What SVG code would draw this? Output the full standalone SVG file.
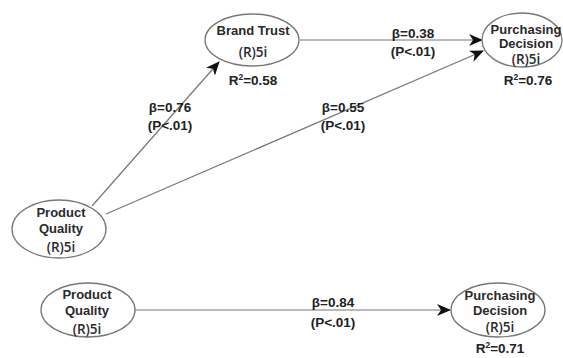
<svg xmlns="http://www.w3.org/2000/svg" width="563" height="358" viewBox="0 0 563 358">
<style>
.node ellipse{fill:#fff;stroke:#777;stroke-width:1.3}
.nt{font-family:"Liberation Sans",Arial,sans-serif;font-weight:bold;font-size:13px;fill:#2a2a2a;text-anchor:middle}
.ri{font-family:"Open Sans","Liberation Sans",sans-serif;font-weight:600;font-size:13.5px;fill:#2a2a2a;text-anchor:middle}
.lb{font-family:"Liberation Sans",Arial,sans-serif;font-weight:bold;font-size:13.5px;fill:#222;text-anchor:middle}
.edge{stroke:#777;stroke-width:1.2;fill:none;marker-end:url(#ah)}
</style>
<defs>
<marker id="ah" markerUnits="userSpaceOnUse" markerWidth="16" markerHeight="12" refX="13" refY="6" orient="auto" viewBox="0 0 16 12">
<path d="M0,0 L14,6 L0,12 L4,6 Z" fill="#111"/>
</marker>
</defs>
<rect width="563" height="358" fill="#fff"/>
<g id="connectors">
<line class="edge" x1="92" y1="206" x2="219" y2="62"/>
<line class="edge" x1="300" y1="40" x2="482" y2="40"/>
<line class="edge" x1="106" y1="214" x2="483" y2="51"/>
<line class="edge" x1="135" y1="310" x2="450" y2="310"/>
<text class="lb" x="170" y="112">β=0.76</text>
<text class="lb" x="170" y="130">(P&lt;.01)</text>
<text class="lb" x="413" y="38">β=0.38</text>
<text class="lb" x="413" y="56">(P&lt;.01)</text>
<text class="lb" x="343" y="112">β=0.55</text>
<text class="lb" x="343" y="130">(P&lt;.01)</text>
<text class="lb" x="333" y="307">β=0.84</text>
<text class="lb" x="333" y="327">(P&lt;.01)</text>
</g>
<g id="brand-trust" class="node">
<ellipse cx="252" cy="40" rx="47" ry="26"/>
<text class="nt" x="253" y="35">Brand Trust</text>
<text class="ri" x="253" y="57">(R)5i</text>
<text class="lb" x="253" y="85">R<tspan font-size="8.5" dy="-5">2</tspan><tspan dy="5">=0.58</tspan></text>
</g>
<g id="purchasing-decision-1" class="node">
<ellipse cx="522" cy="40" rx="40" ry="27"/>
<text class="nt" x="526" y="34">Purchasing</text>
<text class="nt" x="526" y="48">Decision</text>
<text class="ri" x="526" y="64">(R)5i</text>
<text class="lb" x="528" y="85">R<tspan font-size="8.5" dy="-5">2</tspan><tspan dy="5">=0.76</tspan></text>
</g>
<g id="product-quality-1" class="node">
<ellipse cx="59" cy="229" rx="47" ry="29"/>
<text class="nt" x="61" y="217">Product</text>
<text class="nt" x="61" y="233">Quality</text>
<text class="ri" x="61" y="252">(R)5i</text>
</g>
<g id="product-quality-2" class="node">
<ellipse cx="88" cy="310" rx="47" ry="27"/>
<text class="nt" x="87" y="299">Product</text>
<text class="nt" x="87" y="315">Quality</text>
<text class="ri" x="87" y="334">(R)5i</text>
</g>
<g id="purchasing-decision-2" class="node">
<ellipse cx="498" cy="310" rx="47" ry="27"/>
<text class="nt" x="500" y="300">Purchasing</text>
<text class="nt" x="500" y="315">Decision</text>
<text class="ri" x="500" y="332">(R)5i</text>
<text class="lb" x="500" y="353">R<tspan font-size="8.5" dy="-5">2</tspan><tspan dy="5">=0.71</tspan></text>
</g>
</svg>
